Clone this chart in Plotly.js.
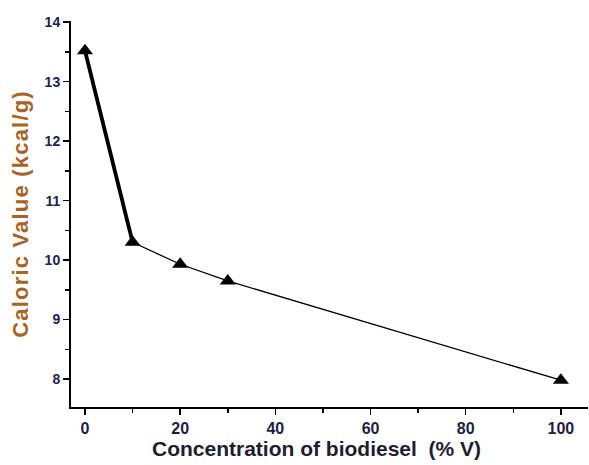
<!DOCTYPE html>
<html>
<head>
<meta charset="utf-8">
<script src="https://cdn.plot.ly/plotly-3.0.1.min.js"></script>
<style>
html,body{margin:0;padding:0;background:#fff;}
#chart{width:589px;height:465px;}
.ytitle{letter-spacing:1.2px;}
</style>
</head>
<body>
<div id="chart"></div>
<script>
// Data
const concentration = [0, 10, 20, 30, 100];          // % V biodiesel
const caloricValue  = [13.52, 10.3, 9.93, 9.65, 7.98]; // kcal/g
const xTickVals = [0, 20, 40, 60, 80, 100];
const yTickVals = [8, 9, 10, 11, 12, 13, 14];
const xTitle = 'Concentration of biodiesel  (% V)';
const yTitle = 'Caloric Value (kcal/g)';

const traces = [
  { // steep first segment (thick line)
    x: concentration.slice(0, 2), y: caloricValue.slice(0, 2),
    mode: 'lines', line: {color: '#000', width: 3.8}, hoverinfo: 'skip', showlegend: false
  },
  { // remaining segments (thin line)
    x: concentration.slice(1), y: caloricValue.slice(1),
    mode: 'lines', line: {color: '#000', width: 1.3}, hoverinfo: 'skip', showlegend: false
  },
  {
    x: concentration, y: caloricValue,
    mode: 'markers', marker: {symbol: 'triangle-up', size: 14, color: '#000'},
    showlegend: false
  }
];

const layout = {
  width: 589, height: 465,
  margin: {l: 71, r: 1, t: 21, b: 58},
  paper_bgcolor: '#fff', plot_bgcolor: '#fff',
  showlegend: false,
  xaxis: {
    range: [-2.94, 105.7],
    tickmode: 'array', tickvals: xTickVals, ticktext: xTickVals.map(String),
    ticks: 'outside', ticklen: 6, tickwidth: 1.5, tickcolor: '#000',
    minor: {dtick: 10, tick0: 0, ticks: 'outside', ticklen: 4, tickwidth: 1.5, tickcolor: '#000'},
    showline: true, linecolor: '#000', linewidth: 2,
    showgrid: false, zeroline: false,
    tickfont: {family: 'Liberation Sans, Arial, sans-serif', size: 16, color: '#1e1e44', weight: 'bold'}
  },
  yaxis: {
    range: [7.53, 14.02],
    tickmode: 'array', tickvals: yTickVals, ticktext: yTickVals.map(String),
    ticks: 'outside', ticklen: 6, tickwidth: 1.5, tickcolor: '#000',
    minor: {dtick: 0.5, tick0: 0, ticks: 'outside', ticklen: 4, tickwidth: 1.5, tickcolor: '#000'},
    showline: true, linecolor: '#000', linewidth: 2,
    showgrid: false, zeroline: false,
    tickfont: {family: 'Liberation Sans, Arial, sans-serif', size: 14, color: '#22224e', weight: 'bold'},
    title: {text: yTitle, standoff: 10,
            font: {family: 'Liberation Sans, Arial, sans-serif', size: 22, color: '#a86424', weight: 'bold'}}
  },
  annotations: [{
    text: xTitle, xref: 'paper', yref: 'paper', x: 0.474, y: -0.108,
    xanchor: 'center', yanchor: 'middle', showarrow: false, borderpad: 0,
    font: {family: 'Liberation Sans, Arial, sans-serif', size: 21, color: '#1e1e2e', weight: 'bold'}
  }]
};

Plotly.newPlot('chart', traces, layout, {displayModeBar: false, staticPlot: true});
</script>
</body>
</html>
